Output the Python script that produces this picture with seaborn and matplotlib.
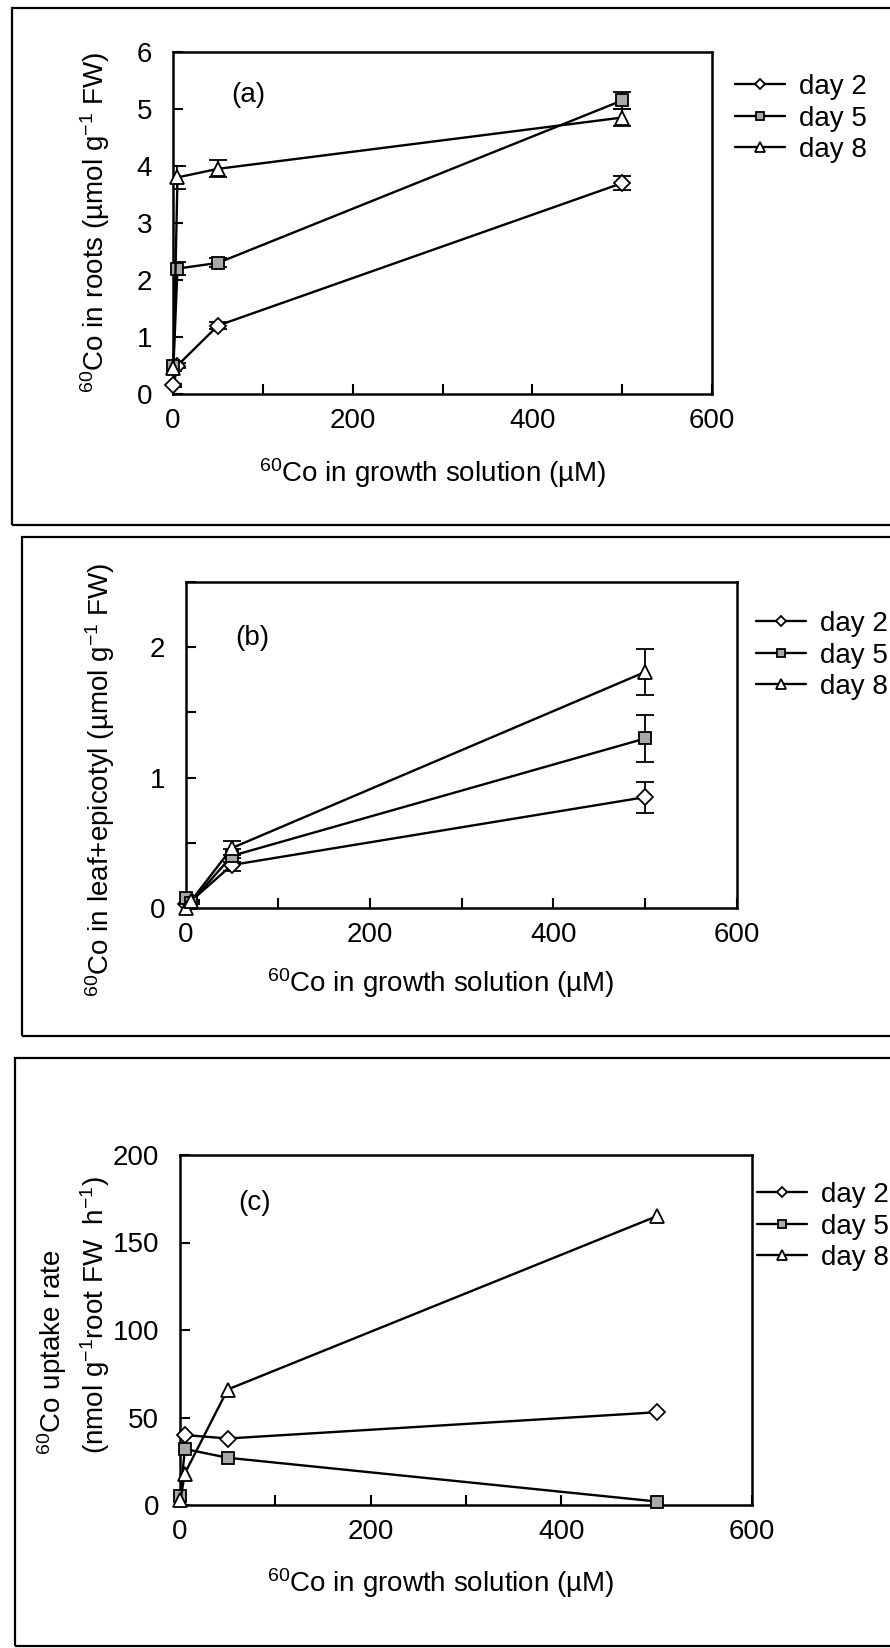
import pandas as pd
import seaborn as sns
import matplotlib.pyplot as plt
from matplotlib.patches import Rectangle
from matplotlib.ticker import MultipleLocator

# 60Co concentration in growth solution (uM)
conc = [0.5, 5, 50, 500]
conc_c2 = [5, 50, 500]
days = ['day 2', 'day 5', 'day 8']

# (a) 60Co in roots
roots_day2 = [0.15, 0.5, 1.2, 3.7]
roots_day5 = [0.5, 2.2, 2.3, 5.15]
roots_day8 = [0.45, 3.8, 3.95, 4.85]
roots_err2 = [0.03, 0.05, 0.06, 0.12]
roots_err5 = [0.05, 0.12, 0.08, 0.15]
roots_err8 = [0.05, 0.2, 0.15, 0.15]

# (b) 60Co in leaf+epicotyl
leaf_day2 = [0.03, 0.05, 0.33, 0.85]
leaf_day5 = [0.08, 0.04, 0.4, 1.3]
leaf_day8 = [0.0, 0.05, 0.46, 1.81]
leaf_err2 = [0.01, 0.01, 0.05, 0.12]
leaf_err5 = [0.01, 0.01, 0.05, 0.18]
leaf_err8 = [0.01, 0.01, 0.05, 0.18]

# (c) uptake rate
rate_day2 = [40, 38, 53]
rate_day5 = [5, 32, 27, 2]
rate_day8 = [3, 18, 66, 165]

sns.set_style('ticks', {'axes.edgecolor': 'black', 'xtick.color': 'black',
                        'ytick.color': 'black', 'text.color': 'black',
                        'axes.labelcolor': 'black'})
plt.rcParams['font.family'] = ['Liberation Sans', 'DejaVu Sans']
plt.rcParams['mathtext.fontset'] = 'custom'
plt.rcParams['mathtext.rm'] = 'Liberation Sans'
plt.rcParams['mathtext.default'] = 'regular'

FS = 20
W, H = 890, 1648
fig = plt.figure(figsize=(W / 100, H / 100), dpi=100)


def fx(px):
    return px / W


def fy(py):
    return 1 - py / H


# boxes around each panel
for l, t, r, b in [(12, 8, 900, 525), (22, 537, 900, 1036), (15, 1058, 900, 1646)]:
    fig.patches.append(Rectangle((fx(l), fy(b)), (r - l) / W, (b - t) / H,
                                 transform=fig.transFigure, fill=False,
                                 lw=1.6, ec='black'))

styles = {
    'day 2': dict(marker='D', markerfacecolor='white', markersize=8),
    'day 5': dict(marker='s', markerfacecolor='#a8a8a8', markersize=8.5),
    'day 8': dict(marker='^', markerfacecolor='white', markersize=10.5),
}

xlab = r'$^{60}$Co in growth solution (µM)'


def panel(box, xs, ys, errs, ylim, major, minor, tag, tagpos, legpos):
    l, t, r, b = box
    ax = fig.add_axes([fx(l), fy(b), (r - l) / W, (b - t) / H])
    handles = []
    for day, x, y, e in zip(days, xs, ys, errs):
        df = pd.DataFrame({'conc': x, 'value': y})
        if e is not None:
            ax.errorbar(x, y, yerr=e, fmt='none', ecolor='black',
                        elinewidth=1.3, capsize=6.5, capthick=1.3, zorder=2)
        sns.lineplot(data=df, x='conc', y='value', ax=ax, color='black',
                     lw=1.7, markeredgecolor='black', markeredgewidth=1.3,
                     errorbar=None, clip_on=False, zorder=3, **styles[day])
        handles.append(ax.lines[-1])
    ax.set_xlim(0, 600)
    ax.set_ylim(*ylim)
    ax.set_xticks([0, 200, 400, 600])
    ax.xaxis.set_minor_locator(MultipleLocator(100))
    ax.yaxis.set_major_locator(MultipleLocator(major))
    ax.yaxis.set_minor_locator(MultipleLocator(minor))
    ax.tick_params(which='both', direction='in', length=7, width=1.5,
                   labelsize=FS)
    ax.tick_params(axis='x', which='both', pad=10)
    ax.tick_params(axis='y', which='both', pad=15)
    for s in ax.spines.values():
        s.set_linewidth(1.8)
    ax.text(tagpos[0], tagpos[1], tag, transform=ax.transAxes,
            ha='center', va='center', fontsize=FS)
    ax.legend(handles, days, loc='upper left',
              bbox_to_anchor=(fx(legpos[0]), fy(legpos[1])),
              bbox_transform=fig.transFigure, frameon=False, fontsize=FS,
              handlelength=1.8, handletextpad=0.5, labelspacing=0.2,
              borderpad=0, borderaxespad=0, markerscale=0.7)
    ax.set_xlabel('')
    ax.set_ylabel('')
    return ax


def put_xlabel(ax, box, cx, cy):
    l, t, r, b = box
    ax.set_xlabel(xlab, fontsize=FS, va='center')
    ax.xaxis.set_label_coords((cx - l) / (r - l), (b - cy) / (b - t))


def put_ylabel(ax, box, text, cx, cy):
    l, t, r, b = box
    ax.set_ylabel(text, fontsize=FS, va='center', ha='center')
    ax.yaxis.set_label_coords((cx - l) / (r - l), (b - cy) / (b - t))


box_a = (173, 52, 712, 394)
ax_a = panel(box_a, [conc] * 3, [roots_day2, roots_day5, roots_day8],
             [roots_err2, roots_err5, roots_err8], (0, 6), 1, 1,
             '(a)', (0.139, 0.874), (735, 74))
put_xlabel(ax_a, box_a, 433, 473)
put_ylabel(ax_a, box_a, r'$^{60}$Co in roots (µmol g$^{-1}$ FW)', 95, 222)

box_b = (186, 582, 737, 908)
ax_b = panel(box_b, [conc] * 3, [leaf_day2, leaf_day5, leaf_day8],
             [leaf_err2, leaf_err5, leaf_err8], (0, 2.5), 1, 0.5,
             '(b)', (0.12, 0.828), (756, 611))
put_xlabel(ax_b, box_b, 441, 983)
put_ylabel(ax_b, box_b, r'$^{60}$Co in leaf+epicotyl (µmol g$^{-1}$ FW)', 100, 780)

box_c = (180, 1155, 752, 1505)
ax_c = panel(box_c, [conc_c2, conc, conc], [rate_day2, rate_day5, rate_day8],
             [None, None, None], (0, 200), 50, 50,
             '(c)', (0.13, 0.863), (757, 1182))
put_xlabel(ax_c, box_c, 441, 1583)
put_ylabel(ax_c, box_c, r'(nmol g$^{-1}$root FW  h$^{-1}$)', 95, 1315)
ax_c.text((52 - 180) / 572, (1505 - 1352) / 350, r'$^{60}$Co uptake rate',
          transform=ax_c.transAxes, rotation=90, ha='center', va='center',
          fontsize=FS)

fig.savefig('out.png', dpi=100)
